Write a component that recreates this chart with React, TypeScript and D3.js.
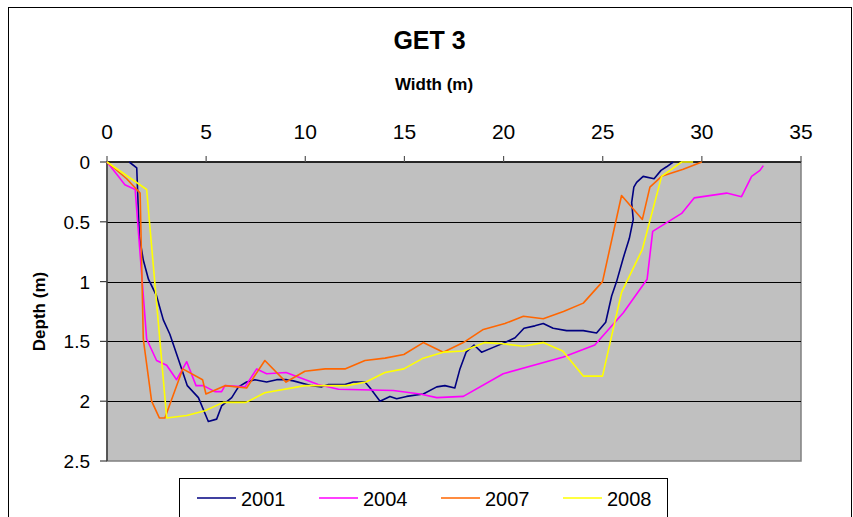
import React from 'react';
import * as d3 from 'd3';

// cross-section survey data, width (m) vs depth (m)
const width2001 = [1.12, 1.5, 1.63, 1.83, 2.09, 2.5, 2.84, 3.17, 3.6, 4.05, 4.61, 5.11, 5.53, 5.78, 6.29, 6.63, 7.04, 7.46, 8.05, 8.56, 9.06, 9.4, 10.32, 10.83, 11.17, 12.0, 12.42, 13.01, 13.27, 13.77, 14.27, 14.61, 15.11, 15.95, 16.63, 17.04, 17.54, 17.8, 18.11, 18.51, 18.89, 19.48, 20.07, 20.58, 21.03, 21.58, 22.0, 22.5, 23.18, 24.02, 24.69, 25.15, 25.45, 25.7, 26.04, 26.34, 26.54, 26.46, 26.57, 26.71, 27.04, 27.59, 27.94, 28.22, 28.56];
const depth2001 = [0, 0.05, 0.62, 0.82, 0.98, 1.12, 1.32, 1.44, 1.65, 1.87, 1.97, 2.17, 2.15, 2.04, 1.97, 1.88, 1.84, 1.82, 1.84, 1.82, 1.82, 1.83, 1.87, 1.88, 1.86, 1.86, 1.84, 1.84, 1.89, 2.0, 1.96, 1.98, 1.96, 1.94, 1.88, 1.87, 1.89, 1.73, 1.59, 1.53, 1.59, 1.55, 1.51, 1.47, 1.39, 1.37, 1.35, 1.39, 1.41, 1.41, 1.43, 1.34, 1.12, 1.0, 0.8, 0.64, 0.48, 0.34, 0.21, 0.17, 0.12, 0.14, 0.07, 0.04, 0];

const width2004 = [0, 0.57, 0.9, 1.42, 2.0, 2.5, 3.01, 3.51, 4.02, 4.49, 4.86, 5.44, 5.78, 5.95, 6.96, 7.55, 8.05, 9.03, 10.65, 11.67, 14.44, 15.79, 16.63, 17.97, 19.98, 23.02, 24.6, 26.04, 27.24, 27.52, 28.98, 29.61, 31.25, 32.0, 32.51, 32.93, 33.1];
const depth2004 = [0, 0.12, 0.19, 0.23, 1.48, 1.66, 1.7, 1.82, 1.67, 1.87, 1.87, 1.92, 1.92, 1.87, 1.88, 1.73, 1.77, 1.76, 1.86, 1.9, 1.91, 1.94, 1.97, 1.96, 1.77, 1.63, 1.53, 1.26, 0.98, 0.58, 0.43, 0.3, 0.26, 0.29, 0.12, 0.07, 0.03];

const width2007 = [0, 0.99, 1.67, 1.83, 2.25, 2.64, 2.92, 3.82, 4.82, 4.99, 5.95, 7.04, 7.96, 9.03, 9.98, 11.0, 12.0, 13.01, 14.02, 14.97, 15.95, 16.96, 17.97, 18.98, 20.07, 21.0, 22.0, 23.02, 24.02, 24.99, 25.95, 27.0, 27.38, 27.97, 29.06, 30.0];
const depth2007 = [0, 0.14, 0.26, 1.48, 2.0, 2.14, 2.14, 1.73, 1.82, 1.94, 1.87, 1.89, 1.66, 1.84, 1.75, 1.73, 1.73, 1.66, 1.64, 1.61, 1.51, 1.59, 1.51, 1.4, 1.35, 1.29, 1.31, 1.25, 1.18, 1.0, 0.28, 0.48, 0.21, 0.12, 0.06, 0];

const width2008 = [0, 2.0, 3.01, 4.02, 4.94, 5.86, 7.01, 7.96, 9.98, 12.09, 13.06, 14.02, 14.97, 15.95, 16.96, 17.97, 19.06, 19.98, 21.0, 22.0, 22.98, 24.02, 24.99, 25.95, 27.0, 27.97, 28.98, 29.56];
const depth2008 = [0, 0.23, 2.14, 2.12, 2.08, 2.01, 2.01, 1.93, 1.87, 1.87, 1.84, 1.76, 1.73, 1.64, 1.59, 1.58, 1.51, 1.52, 1.54, 1.51, 1.58, 1.79, 1.79, 1.09, 0.73, 0.12, 0, 0];

const seriesNames = ['2001', '2004', '2007', '2008'];
const seriesColors = ['#000080', '#FF00FF', '#FF6600', '#FFFF00'];
const xTicks = [0, 5, 10, 15, 20, 25, 30, 35];
const yTicks = [0, 0.5, 1, 1.5, 2, 2.5];

const W = 853;
const H = 517;
const FONT = 'Liberation Sans, Arial, sans-serif';

export default function App() {
  const left = 107, right = 801, top = 162, bottom = 461;

  const x = d3.scaleLinear().domain([0, 35]).range([left, right]);
  const y = d3.scaleLinear().domain([0, 2.5]).range([top, bottom]);

  const series = [
    { name: seriesNames[0], color: seriesColors[0], xs: width2001, ys: depth2001 },
    { name: seriesNames[1], color: seriesColors[1], xs: width2004, ys: depth2004 },
    { name: seriesNames[2], color: seriesColors[2], xs: width2007, ys: depth2007 },
    { name: seriesNames[3], color: seriesColors[3], xs: width2008, ys: depth2008 },
  ];

  const line = d3.line<[number, number]>()
    .x(d => x(d[0]))
    .y(d => y(d[1]));

  return (
    <svg width={W} height={H} style={{ position: 'absolute', left: 0, top: 0, background: '#fff', fontFamily: FONT }}>
      {/* chart frame */}
      <rect x={8.5} y={7.5} width={843} height={520} fill="#fff" stroke="#000" strokeWidth={1} />

      {/* plot area */}
      <rect x={left} y={top} width={right - left} height={bottom - top} fill="#C0C0C0" stroke="#808080" strokeWidth={1.5} />

      {/* gridlines */}
      {yTicks.slice(1, -1).map(t => (
        <line key={'g' + t} x1={left} x2={right} y1={Math.round(y(t)) + 0.5} y2={Math.round(y(t)) + 0.5}
          stroke="#000" strokeWidth={1.2} />
      ))}

      {/* top axis */}
      <line x1={left} x2={right} y1={top} y2={top} stroke="#000" strokeWidth={1.5} />
      {xTicks.map(t => (
        <g key={'x' + t}>
          <line x1={x(t)} x2={x(t)} y1={top - 6} y2={top} stroke="#555" strokeWidth={1.2} />
          <text x={x(t)} y={139} textAnchor="middle" fontSize={21} fill="#000">{t}</text>
        </g>
      ))}

      {/* left axis */}
      <line x1={left} x2={left} y1={top} y2={bottom} stroke="#404040" strokeWidth={1.5} />
      {yTicks.map(t => (
        <g key={'y' + t}>
          <line x1={left - 7} x2={left} y1={y(t)} y2={y(t)} stroke="#404040" strokeWidth={1.2} />
          <text x={90} y={y(t) + 7} textAnchor="end" fontSize={19} fill="#000">{t}</text>
        </g>
      ))}

      {/* data lines */}
      {series.map(s => (
        <path key={s.name}
          d={line(s.xs.map((v, i) => [v, s.ys[i]] as [number, number])) || ''}
          fill="none" stroke={s.color} strokeWidth={1.6} strokeLinejoin="round" />
      ))}

      {/* titles */}
      <text x={429.5} y={49} textAnchor="middle" fontSize={25} fontWeight="bold">GET 3</text>
      <text x={434} y={90} textAnchor="middle" fontSize={17} fontWeight="bold">Width (m)</text>
      <text transform={`translate(45,${(top + bottom) / 2}) rotate(-90)`} textAnchor="middle"
        fontSize={17} fontWeight="bold">Depth (m)</text>

      {/* legend */}
      <rect x={179.5} y={478.5} width={488} height={50} fill="#fff" stroke="#000" strokeWidth={1} />
      {series.map((s, i) => (
        <g key={'l' + s.name} transform={`translate(${197 + i * 122},498)`}>
          <line x1={0} x2={39} y1={0} y2={0} stroke={s.color} strokeWidth={1.6} />
          <text x={44} y={8} fontSize={20} fill="#000">{s.name}</text>
        </g>
      ))}
    </svg>
  );
}
